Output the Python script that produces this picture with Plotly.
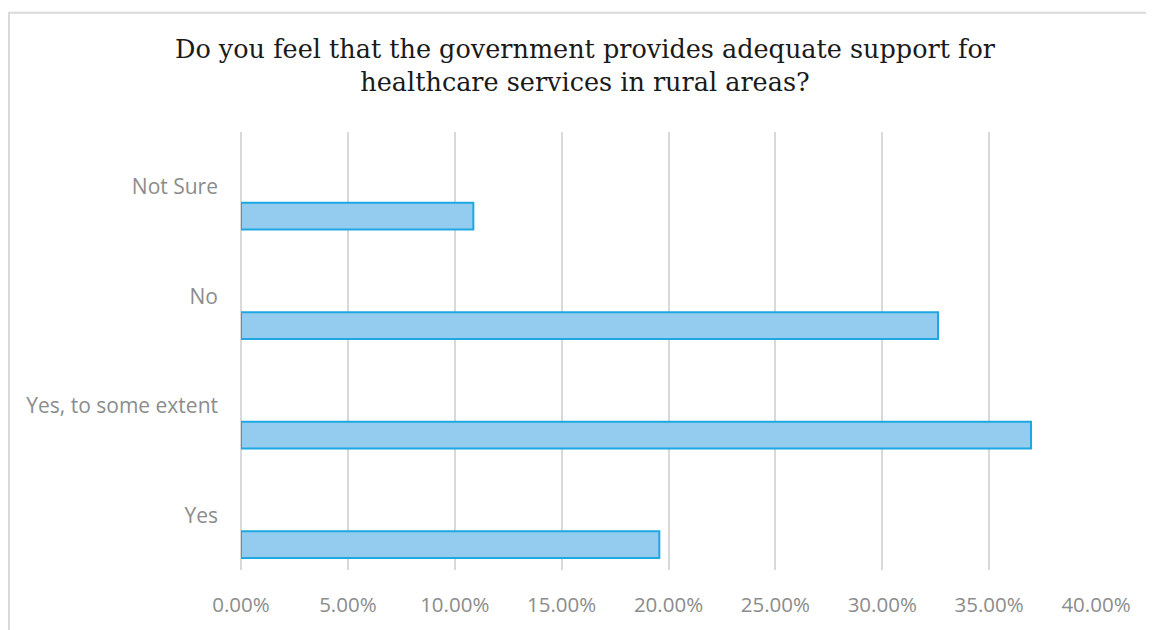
import plotly.graph_objects as go

categories = ["Yes", "Yes, to some extent", "No", "Not Sure"]
values = [0.1957, 0.3696, 0.3261, 0.1087]
tick_vals = [0, 0.05, 0.10, 0.15, 0.20, 0.25, 0.30, 0.35, 0.40]
tick_text = ["0.00%", "5.00%", "10.00%", "15.00%", "20.00%", "25.00%", "30.00%", "35.00%", "40.00%"]
title_text = "Do you feel that the government provides adequate support for<br>healthcare services in rural areas?"

# page body has an 8px margin, so figure coordinates = screen coordinates - 8
OFF = 8
W, H = 1154 - OFF, 630 - OFF
L, R, T, B = 241 - OFF, 1096 - OFF, 132 - OFF, 573 - OFF

fig = go.Figure()
fig.add_trace(go.Bar(
    x=values, y=categories, orientation="h",
    width=0.245, offset=-0.39,
    marker=dict(color="#93CCEE", line=dict(color="#1EA7E1", width=2)),
    hoverinfo="x+y",
))

def px_x(px):
    return (px - L) / (R - L)

def px_y(py):
    return (B - py) / (B - T)

fig.add_shape(type="rect", xref="paper", yref="paper",
              x0=px_x(1), x1=px_x(1170), y0=px_y(660), y1=px_y(4),
              line=dict(color="#D9D9D9", width=2), layer="below")

fig.update_layout(
    width=W, height=H,
    margin=dict(l=L, r=W - R, t=T, b=H - B, pad=0),
    paper_bgcolor="white", plot_bgcolor="white",
    showlegend=False,
    title=dict(text=title_text, x=(585 - OFF) / W, xanchor="center", xref="container",
               y=1 - 50 / H, yanchor="top", yref="container",
               font=dict(family="DejaVu Serif", size=25.5, color="#1a1a1a")),
    xaxis=dict(range=[0, 0.40], tickvals=tick_vals, ticktext=tick_text,
               showgrid=True, gridcolor="#D9D9D9", gridwidth=2,
               zeroline=True, zerolinecolor="#D9D9D9", zerolinewidth=2,
               showline=False, ticks="",
               ticklabelstandoff=20,
               tickfont=dict(family="Open Sans", size=20.5, color="#8C8C8C")),
    yaxis=dict(categoryorder="array", categoryarray=categories,
               showgrid=False, zeroline=False, showline=False, ticks="",
               ticklabelstandoff=22,
               tickfont=dict(family="Open Sans", size=21, color="#8C8C8C")),
)

fig.write_html("out.html")
